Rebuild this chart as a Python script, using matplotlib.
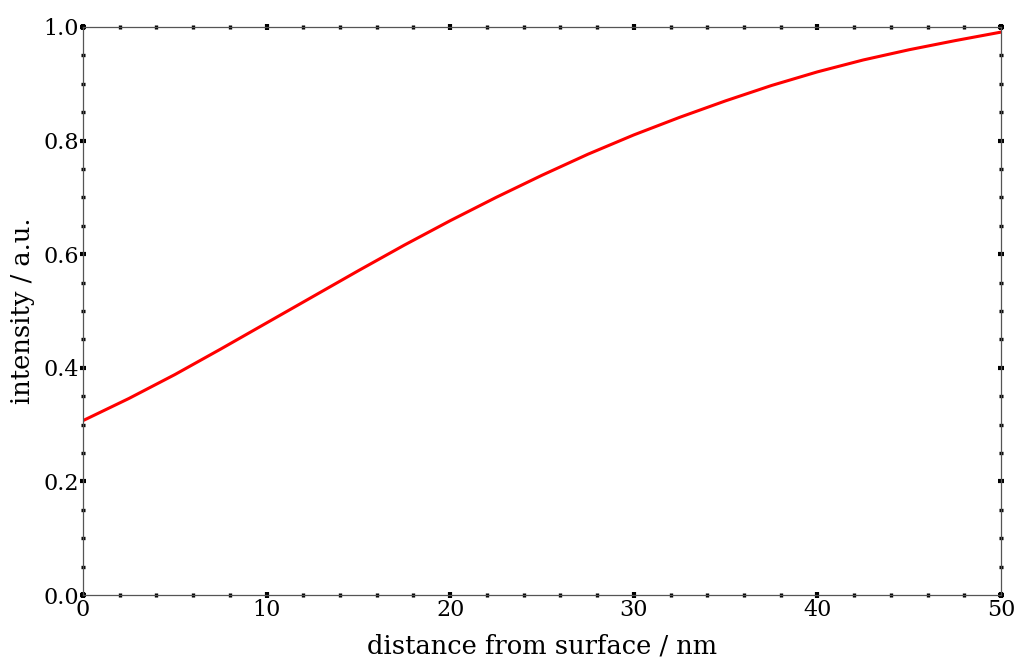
import matplotlib
matplotlib.use("Agg")
import matplotlib.pyplot as plt
from matplotlib.ticker import MultipleLocator, FuncFormatter

# distance from surface (nm) and intensity (a.u.)
distance = [0, 2.5, 5, 7.5, 10, 12.5, 15, 17.5, 20, 22.5, 25, 27.5, 30,
            32.5, 35, 37.5, 40, 42.5, 45, 47.5, 50]
intensity = [0.307, 0.346, 0.388, 0.433, 0.479, 0.525, 0.571, 0.616, 0.659,
             0.700, 0.739, 0.776, 0.810, 0.841, 0.870, 0.897, 0.921, 0.942,
             0.960, 0.976, 0.991]

x_label = "distance from surface / nm"
y_label = "intensity / a.u."

plt.rcParams['font.family'] = ['DejaVu Serif']
fig = plt.figure(figsize=(10.19, 6.71), dpi=100)
ax = fig.add_axes([83/1019, 76/671, 918/1019, 568/671])

ax.plot(distance, intensity, color='#ff0000', lw=2.2, solid_capstyle='round',
        solid_joinstyle='round')

ax.set_xlim(0, 50)
ax.set_ylim(0, 1.0)
ax.xaxis.set_major_locator(MultipleLocator(10))
ax.xaxis.set_minor_locator(MultipleLocator(2))
ax.yaxis.set_major_locator(MultipleLocator(0.2))
ax.yaxis.set_minor_locator(MultipleLocator(0.05))
ax.xaxis.set_major_formatter(FuncFormatter(lambda v, p: f"{v:.0f}"))
ax.yaxis.set_major_formatter(FuncFormatter(lambda v, p: f"{v:.1f}"))

for s in ax.spines.values():
    s.set_color('#555555')
    s.set_linewidth(0.9)

ax.tick_params(which='major', direction='inout', length=4, width=3.0, color='black',
               top=True, right=True, labelsize=16, pad=1)
ax.tick_params(which='minor', direction='inout', length=3.5, width=2.4, color='black',
               top=True, right=True)

ax.set_xlabel(x_label, fontsize=18.5, labelpad=9)
ax.set_ylabel(y_label, fontsize=18.5, labelpad=6)

fig.savefig("out.png", dpi=100)
